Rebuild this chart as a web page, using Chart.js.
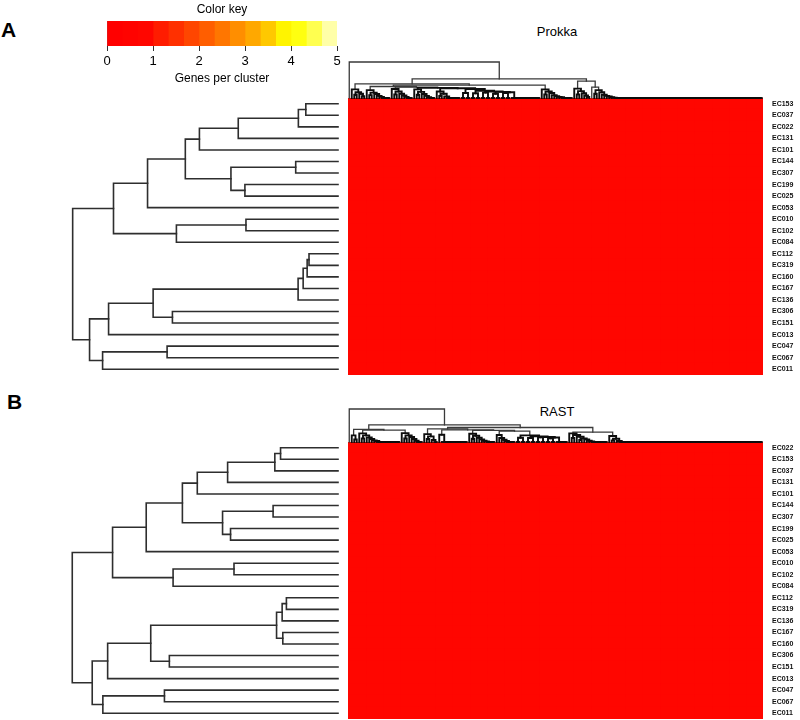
<!DOCTYPE html>
<html><head><meta charset="utf-8">
<script src="https://cdn.jsdelivr.net/npm/chart.js@4.4.1/dist/chart.umd.min.js"></script>
<style>
html,body{margin:0;padding:0;background:#fff;width:800px;height:720px;overflow:hidden;font-family:'Liberation Sans',Arial,sans-serif;}
.box{position:absolute;}
.box canvas{display:block;}
.lbl{position:absolute;white-space:nowrap;color:#000;font-family:'Liberation Sans',Arial,sans-serif;}
</style></head><body>
<div class="box" style="left:348px;top:98px;width:452px;height:277px;z-index:1"><canvas id="heatA" width="452" height="277" style="width:452px;height:277px"></canvas></div>
<div class="box" style="left:348px;top:442px;width:452px;height:277px;z-index:1"><canvas id="heatB" width="452" height="277" style="width:452px;height:277px"></canvas></div>
<div class="box" style="left:60px;top:98px;width:290px;height:277px;z-index:2"><canvas id="rowA" width="290" height="277" style="width:290px;height:277px"></canvas></div>
<div class="box" style="left:60px;top:442px;width:290px;height:277px;z-index:2"><canvas id="rowB" width="290" height="277" style="width:290px;height:277px"></canvas></div>
<div class="box" style="left:348px;top:55px;width:415px;height:44px;z-index:3"><canvas id="colA" width="415" height="44" style="width:415px;height:44px"></canvas></div>
<div class="box" style="left:348px;top:402px;width:415px;height:41px;z-index:3"><canvas id="colB" width="415" height="41" style="width:415px;height:41px"></canvas></div>
<div class="box" style="left:97px;top:0px;width:250px;height:90px;z-index:3"><canvas id="key" width="250" height="90" style="width:250px;height:90px"></canvas></div>
<div class="lbl" style="left:1px;top:19px;font-weight:bold;font-size:21px;line-height:21px;">A</div>
<div class="lbl" style="left:7px;top:391px;font-weight:bold;font-size:21px;line-height:21px;">B</div>
<div class="lbl" style="left:457px;width:200px;text-align:center;top:25px;font-size:13px;line-height:13px;">Prokka</div>
<div class="lbl" style="left:457px;width:200px;text-align:center;top:405px;font-size:13px;line-height:13px;">RAST</div>
<script>
// ---------------- DATA ----------------
const keyTicks = [0, 1, 2, 3, 4, 5];
const keyBreaks = [0, 0.333, 0.667, 1, 1.333, 1.667, 2, 2.333, 2.667, 3, 3.333, 3.667, 4, 4.333, 4.667, 5];
const keyColors = ['#FF0000','#FF0300','#FF0600','#FF1C00','#FF3000','#FF4600','#FF5E00','#FF7600','#FF8E00','#FFA800','#FFC800','#FFF400','#FFFF10','#FFFF50','#FFFFA8'];

const rowsA = ['EC153','EC037','EC022','EC131','EC101','EC144','EC307','EC199','EC025','EC053','EC010','EC102','EC084','EC112','EC319','EC160','EC167','EC136','EC306','EC151','EC013','EC047','EC067','EC011'];
const rowsB = ['EC022','EC153','EC037','EC131','EC101','EC144','EC307','EC199','EC025','EC053','EC010','EC102','EC084','EC112','EC319','EC136','EC167','EC160','EC306','EC151','EC013','EC047','EC067','EC011'];

// row dendrograms: [height, left, right]; 1 = one genome (leaf)
const rowTreeA = [99.75,
  [84.4,
    [71.6, [57.4, [52.1, [37.5, [14.9, [12.1, 1, 1], 1], 1], 1], [40.25, [15.9, 1, 1], [35.0, 1, 1]]], 1],
    [60.75, [34.6, 1, 1], 1]],
  [93.4,
    [86.25, [69.5, [15.0, [13.1, [11.6, [10.9, 1, 1], 1], 1], 1], [62.25, 1, 1]], 1],
    [88.5, [64.25, 1, 1], 1]]];
const rowTreeB = [99.9,
  [84.75,
    [72.1, [58.5, [52.9, [41.5, [23.75, [21.6, 1, 1], 1], 1], 1], [43.4, [24.4, 1, 1], [40.4, 1, 1]]], 1],
    [62.0, [39.1, 1, 1], 1]],
  [92.4,
    [86.6, [70.4, [23.1, [21.0, [19.4, 1, 1], 1], [20.75, 1, 1]], [63.4, 1, 1]], 1],
    [88.4, [65.25, 1, 1], 1]]];

// column (gene cluster) dendrograms: [height, left, right]; number k = k identical clusters (height 0)
const colA_g1 = [24, 1, [16, [9, 1, 1], [12, 1, [5, 1, 1]]]];
const colA_g2 = [22, 1, [15, [8, 1, 1], [11, 1, [6, 1, [3, 1, 4]]]]];
const colA_g3 = [25, 1, [18, [10, 1, 1], [12, 1, [7, 1, [3, 1, 3]]]]];
const colA_g4 = [24, 1, [17, [9, 1, 1], [11, 1, [6, 1, [2, 1, 3]]]]];
const colA_g5 = [18, 1, [12, [6, 1, 1], [4, 1, 6]]];
const colA_box = [25, [14, 2, 2], [20, [13, 2, 2], [18, [15, 2, 2], [17, [12, 2, 2], [16, [14, 2, 2], 12]]]]];
const colA_g6 = [24, 1, [18, [10, 1, 1], [14, 1, [8, 1, [5, 1, [3, 1, [2, 1, 5]]]]]]];
const colA_g7 = [26, 1, [19, [10, 1, 1], [13, 1, [7, 1, [3, 1, 1]]]]];
const colA_g8 = [30, 1, [22, [12, 1, 1], [16, 1, [9, 1, [6, 1, [4, 1, [2, 1, [1, 1, 60]]]]]]]];
const colTreeA = [100, 1,
  [53,
    [39, colA_g1, [36, [32, colA_g2, [30, colA_g3, [28, colA_g4, [27, colA_g5, colA_box]]]], colA_g6]],
    [47, colA_g7, colA_g8]]];

const colB_g1 = [20, 1, [8, 1, 1]];
const colB_g2 = [26, 1, [20, [11, 1, 1], [14, 1, [9, 1, [5, 1, [3, 1, 10]]]]]];
const colB_g3 = [27, 1, [20, [11, 1, 1], [15, 1, [9, 1, [4, 1, 3]]]]];
const colB_g4 = [24, 1, [17, [9, 1, 1], [6, 1, 2]]];
const colB_g5 = [22, 1, 11];
const colB_g6 = [25, 1, [19, [10, 1, 1], [13, 1, [8, 1, [4, 1, [2, 1, 4]]]]]];
const colB_g7 = [21, 1, [12, 1, [7, 1, [3, 1, 4]]]];
const colB_box = [20, [13, 2, 2], [17, [12, 2, 2], [15, [14, 2, 2], [13.5, [11, 2, 2], 5]]]];
const colB_g8 = [26, 1, [21, [12, 1, 1], [16, 1, [11, [6, 1, 1], [8, 1, [4, 1, [2, 1, 7]]]]]]];
const colB_g9 = [18, 1, [10, [5, 1, 1], [3, 1, 58]]];
const colTreeB = [100, 1,
  [52,
    [38, colB_g1, [36, colB_g2, colB_g3]],
    [44, [40, colB_g4, [37, colB_g5, [35, colB_g6, [33, colB_g7, colB_box]]]], [30, colB_g8, colB_g9]]]];

// heatmap: genes per cluster, by genome (rows) and blocks of clusters (columns)
const heatA = [
 [1,1,1,1,1,1,1,1,1,1,1,1,1,1,1,1,1,1,1,1,1,1,1,1],
 [1,1,1,1,1,1,1,1,1,1,1,1,1,1,1,1,1,1,1,1,1,1,1,1],
 [1,1,1,1,1,1,1,1,1,1,1,1,1,1,1,1,1,1,1,1,1,1,1,1],
 [1,1,1,1,1,1,1,1,1,1,1,1,1,1,1,1,1,1,1,1,1,1,1,1],
 [1,1,1,1,1,1,1,1,1,1,1,1,1,1,1,1,1,1,1,1,1,1,1,1],
 [1,1,1,1,1,1,1,1,1,1,1,1,1,1,1,1,1,1,1,1,1,1,1,1],
 [1,1,1,1,1,1,1,1,1,1,1,1,1,1,1,1,1,1,1,1,1,1,1,1],
 [1,1,1,1,1,1,1,1,1,1,1,1,1,1,1,1,1,1,1,1,1,1,1,1],
 [1,1,1,1,1,1,1,1,1,1,1,1,1,1,1,1,1,1,1,1,1,1,1,1],
 [1,1,1,1,1,1,1,1,1,1,1,1,1,1,1,1,1,1,1,1,1,1,1,1],
 [1,1,1,1,1,1,1,1,1,1,1,1,1,1,1,1,1,1,1,1,1,1,1,1],
 [1,1,1,1,1,1,1,1,1,1,1,1,1,1,1,1,1,1,1,1,1,1,1,1],
 [1,1,1,1,1,1,1,1,1,1,1,1,1,1,1,1,1,1,1,1,1,1,1,1],
 [1,1,1,1,1,1,1,1,1,1,1,1,1,1,1,1,1,1,1,1,1,1,1,1],
 [1,1,1,1,1,1,1,1,1,1,1,1,1,1,1,1,1,1,1,1,1,1,1,1],
 [1,1,1,1,1,1,1,1,1,1,1,1,1,1,1,1,1,1,1,1,1,1,1,1],
 [1,1,1,1,1,1,1,1,1,1,1,1,1,1,1,1,1,1,1,1,1,1,1,1],
 [1,1,1,1,1,1,1,1,1,1,1,1,1,1,1,1,1,1,1,1,1,1,1,1],
 [1,1,1,1,1,1,1,1,1,1,1,1,1,1,1,1,1,1,1,1,1,1,1,1],
 [1,1,1,1,1,1,1,1,1,1,1,1,1,1,1,1,1,1,1,1,1,1,1,1],
 [1,1,1,1,1,1,1,1,1,1,1,1,1,1,1,1,1,1,1,1,1,1,1,1],
 [1,1,1,1,1,1,1,1,1,1,1,1,1,1,1,1,1,1,1,1,1,1,1,1],
 [1,1,1,1,1,1,1,1,1,1,1,1,1,1,1,1,1,1,1,1,1,1,1,1],
 [1,1,1,1,1,1,1,1,1,1,1,1,1,1,1,1,1,1,1,1,1,1,1,1]];
const heatB = [
 [1,1,1,1,1,1,1,1,1,1,1,1,1,1,1,1,1,1,1,1,1,1,1,1],
 [1,1,1,1,1,1,1,1,1,1,1,1,1,1,1,1,1,1,1,1,1,1,1,1],
 [1,1,1,1,1,1,1,1,1,1,1,1,1,1,1,1,1,1,1,1,1,1,1,1],
 [1,1,1,1,1,1,1,1,1,1,1,1,1,1,1,1,1,1,1,1,1,1,1,1],
 [1,1,1,1,1,1,1,1,1,1,1,1,1,1,1,1,1,1,1,1,1,1,1,1],
 [1,1,1,1,1,1,1,1,1,1,1,1,1,1,1,1,1,1,1,1,1,1,1,1],
 [1,1,1,1,1,1,1,1,1,1,1,1,1,1,1,1,1,1,1,1,1,1,1,1],
 [1,1,1,1,1,1,1,1,1,1,1,1,1,1,1,1,1,1,1,1,1,1,1,1],
 [1,1,1,1,1,1,1,1,1,1,1,1,1,1,1,1,1,1,1,1,1,1,1,1],
 [1,1,1,1,1,1,1,1,1,1,1,1,1,1,1,1,1,1,1,1,1,1,1,1],
 [1,1,1,1,1,1,1,1,1,1,1,1,1,1,1,1,1,1,1,1,1,1,1,1],
 [1,1,1,1,1,1,1,1,1,1,1,1,1,1,1,1,1,1,1,1,1,1,1,1],
 [1,1,1,1,1,1,1,1,1,1,1,1,1,1,1,1,1,1,1,1,1,1,1,1],
 [1,1,1,1,1,1,1,1,1,1,1,1,1,1,1,1,1,1,1,1,1,1,1,1],
 [1,1,1,1,1,1,1,1,1,1,1,1,1,1,1,1,1,1,1,1,1,1,1,1],
 [1,1,1,1,1,1,1,1,1,1,1,1,1,1,1,1,1,1,1,1,1,1,1,1],
 [1,1,1,1,1,1,1,1,1,1,1,1,1,1,1,1,1,1,1,1,1,1,1,1],
 [1,1,1,1,1,1,1,1,1,1,1,1,1,1,1,1,1,1,1,1,1,1,1,1],
 [1,1,1,1,1,1,1,1,1,1,1,1,1,1,1,1,1,1,1,1,1,1,1,1],
 [1,1,1,1,1,1,1,1,1,1,1,1,1,1,1,1,1,1,1,1,1,1,1,1],
 [1,1,1,1,1,1,1,1,1,1,1,1,1,1,1,1,1,1,1,1,1,1,1,1],
 [1,1,1,1,1,1,1,1,1,1,1,1,1,1,1,1,1,1,1,1,1,1,1,1],
 [1,1,1,1,1,1,1,1,1,1,1,1,1,1,1,1,1,1,1,1,1,1,1,1],
 [1,1,1,1,1,1,1,1,1,1,1,1,1,1,1,1,1,1,1,1,1,1,1,1]];

// ---------------- HELPERS ----------------
Chart.defaults.font.family = "'Liberation Sans', Arial, sans-serif";
Chart.defaults.color = '#000';

function colorFor(v) {
  for (let b = 0; b < keyColors.length; b++) if (v <= keyBreaks[b + 1]) return keyColors[b];
  return keyColors[keyColors.length - 1];
}

// hclust-style layout: leaves at consecutive positions, each merge centred over its two children
function layoutTree(spec) {
  let next = 0;
  const segs = [];
  function walk(node) {
    if (typeof node === 'number') {
      if (node === 1) return { pos: next++, h: 0 };
      const start = next; next += node;
      let pos = start + node - 1;
      for (let k = start + node - 2; k >= start; k--) {
        segs.push([k, 0, pos, 0, 0]);
        pos = (k + pos) / 2;
      }
      return { pos: pos, h: 0 };
    }
    const L = walk(node[1]);
    const R = walk(node[2]);
    segs.push([L.pos, L.h, R.pos, R.h, node[0]]);
    return { pos: (L.pos + R.pos) / 2, h: node[0] };
  }
  walk(spec);
  return { segs: segs, n: next };
}

// style: low (dense) merges drawn darker/heavier, high merges thinner
function dendroDatasets(segs, horizontal, styleFor) {
  return segs.map(s => {
    const [pl, hl, pr, hr, h] = s;
    const st = styleFor(h);
    const pts = horizontal
      ? [{x: hl, y: pl}, {x: h, y: pl}, {x: h, y: pr}, {x: hr, y: pr}]
      : [{x: pl, y: hl}, {x: pl, y: h}, {x: pr, y: h}, {x: pr, y: hr}];
    return { data: pts, showLine: true, borderColor: st.c, borderWidth: st.w, pointRadius: 0,
             pointHoverRadius: 0, fill: false, tension: 0, clip: false, borderCapStyle: 'square' };
  });
}

const baseOpts = {
  responsive: false, animation: false, events: [],
  plugins: { legend: { display: false }, tooltip: { enabled: false }, title: { display: false } }
};

function rowDendro(id, spec) {
  const t = layoutTree(spec);
  new Chart(document.getElementById(id), {
    type: 'scatter',
    data: { datasets: dendroDatasets(t.segs, true, () => ({ c: '#2e2e2e', w: 1.6 })) },
    options: Object.assign({}, baseOpts, {
      layout: { padding: { left: 12, right: 12, top: 0, bottom: 0 }, autoPadding: false },
      scales: {
        x: { type: 'linear', display: false, min: 0, max: 100, reverse: true },
        y: { type: 'linear', display: false, min: -0.5, max: t.n - 0.5, reverse: true }
      }
    })
  });
}

function colDendro(id, spec) {
  const t = layoutTree(spec);
  new Chart(document.getElementById(id), {
    type: 'scatter',
    data: { datasets: dendroDatasets(t.segs, false, h => (h >= 30 ? { c: '#3a3a3a', w: 1.3 } : { c: '#0d0d0d', w: 1.9 })) },
    options: Object.assign({}, baseOpts, {
      layout: { padding: { left: 0, right: 0, top: 7, bottom: 1 }, autoPadding: false },
      scales: {
        x: { type: 'linear', display: false, min: -0.5, max: t.n - 0.5 },
        y: { type: 'linear', display: false, min: 0, max: 100 }
      }
    })
  });
}

function heatChart(id, rows, heat) {
  const nb = heat[0].length;
  const datasets = [];
  for (let j = 0; j < nb; j++) {
    datasets.push({
      data: rows.map(() => 1),
      backgroundColor: rows.map((_, r) => colorFor(heat[r][j])),
      borderWidth: 0, barPercentage: 1, categoryPercentage: 1, inflateAmount: 1
    });
  }
  new Chart(document.getElementById(id), {
    type: 'bar',
    data: { labels: rows, datasets: datasets },
    options: Object.assign({}, baseOpts, {
      indexAxis: 'y',
      layout: { padding: 0, autoPadding: false },
      scales: {
        x: { display: false, stacked: true, min: 0, max: nb },
        y: { stacked: true, position: 'right',
             grid: { display: false, drawTicks: true, tickLength: 9 }, border: { display: false },
             ticks: { autoSkip: false, padding: 0, color: '#111', font: { size: 7, weight: 'bold' } },
             afterFit: s => { s.width = 37; s.paddingTop = 0; s.paddingBottom = 0; } }
      }
    })
  });
}

// ---------------- CHARTS ----------------
const keyDatasets = keyColors.map((c, b) => ({
  data: [[keyBreaks[b], keyBreaks[b + 1]]], backgroundColor: c, borderWidth: 0,
  grouped: false, barPercentage: 1, categoryPercentage: 1
}));
keyDatasets.push({
  data: [[keyBreaks[0], keyBreaks[keyBreaks.length - 1]]], backgroundColor: 'rgba(0,0,0,0)',
  borderColor: '#333', borderWidth: 1, borderSkipped: false, grouped: false,
  barPercentage: 1, categoryPercentage: 1
});
new Chart(document.getElementById('key'), {
  type: 'bar',
  data: { labels: [''], datasets: keyDatasets },
  options: Object.assign({}, baseOpts, {
    indexAxis: 'y',
    layout: { padding: { left: 10, right: 10, top: 2, bottom: 0 }, autoPadding: false },
    plugins: { legend: { display: false }, tooltip: { enabled: false },
      title: { display: true, text: 'Color key', color: '#000', font: { size: 12, weight: 'normal' }, padding: { top: 0, bottom: 4.6 } } },
    scales: {
      x: { type: 'linear', min: keyTicks[0], max: keyTicks[keyTicks.length - 1],
           afterBuildTicks: s => { s.ticks = keyTicks.map(v => ({ value: v })); },
           ticks: { color: '#000', font: { size: 13 }, padding: 3 },
           grid: { display: true, drawOnChartArea: false, drawTicks: true, tickLength: 5, color: '#333' },
           border: { display: false },
           title: { display: true, text: 'Genes per cluster', color: '#000', font: { size: 12 }, padding: { top: 4, bottom: 4 } } },
      y: { display: false }
    }
  })
});

heatChart('heatA', rowsA, heatA);
heatChart('heatB', rowsB, heatB);
rowDendro('rowA', rowTreeA);
rowDendro('rowB', rowTreeB);
colDendro('colA', colTreeA);
colDendro('colB', colTreeB);
</script>
</body></html>
